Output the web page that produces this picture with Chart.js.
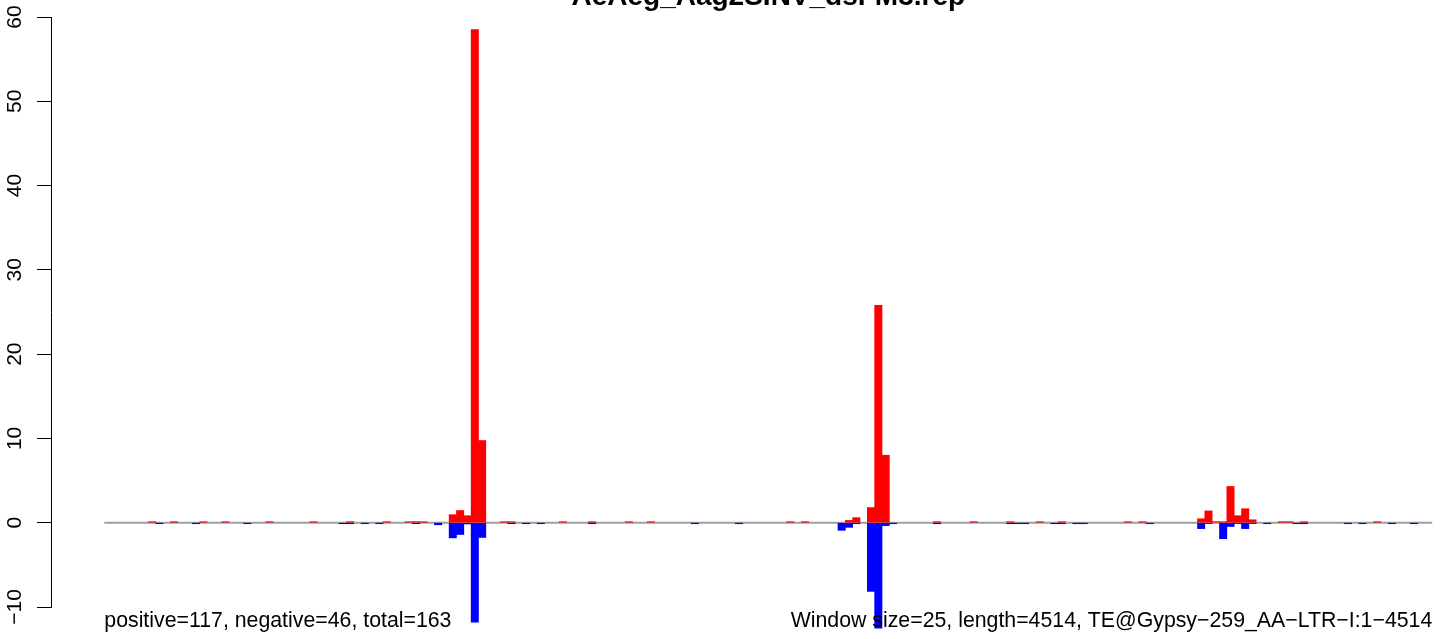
<!DOCTYPE html>
<html>
<head>
<meta charset="utf-8">
<script src="https://cdn.jsdelivr.net/npm/chart.js@4/dist/chart.umd.min.js"></script>
<style>
  body { margin: 0; background: #fff; }
  #wrap { width: 1444px; height: 639px; }
</style>
</head>
<body>
<div id="wrap"><canvas id="chart" width="1444" height="639"></canvas></div>
<script>
// window = 25 bp, length 4514 -> 181 bins
var binCount = 181;
var titleText = 'AeAeg_Aag2SINV_dsFM3.rep';
var leftNote = 'positive=117, negative=46, total=163';
var rightNote = 'Window size=25, length=4514, TE@Gypsy\u2212259_AA\u2212LTR\u2212I:1\u22124514';
var yTicks = [-10, 0, 10, 20, 30, 40, 50, 60];

// sense (red) bins and values
var posBins = [6, 9, 13, 16, 22, 28, 33, 38, 41, 42, 43, 47, 48, 49, 50, 51, 54, 55, 62, 66, 71, 74, 93, 95,
  101, 102, 104, 105, 106, 113, 118, 123, 127, 130, 139, 141, 149, 150, 151, 152, 153, 154, 155, 156,
  160, 161, 163, 173];
var posVals = [0.12, 0.12, 0.12, 0.12, 0.12, 0.12, 0.12, 0.12, 0.12, 0.12, 0.12, 0.95, 1.45, 0.83, 58.5, 9.75, 0.12, 0.12, 0.12, 0.12, 0.12, 0.12, 0.12, 0.12,
  0.27, 0.6, 1.8, 25.8, 8.0, 0.12, 0.12, 0.12, 0.12, 0.12, 0.12, 0.12, 0.47, 1.4, 0.12, 0.12, 4.3, 0.83, 1.66, 0.35,
  0.12, 0.12, 0.12, 0.12];

// antisense (blue) bins and values
var negBins = [7, 12, 19, 32, 33, 35, 37, 42, 45, 47, 48, 49, 50, 51, 55, 57, 59, 66, 80, 86,
  100, 101, 102, 104, 105, 106, 107, 113, 123, 124, 125, 129, 130, 132, 133, 142,
  149, 150, 152, 153, 154, 155, 156, 158, 162, 163, 169, 171, 175, 178];
var negVals = [-0.12, -0.12, -0.12, -0.12, -0.12, -0.12, -0.12, -0.12, -0.25, -1.8, -1.4, -0.15, -11.8, -1.75, -0.12, -0.12, -0.12, -0.12, -0.12, -0.12,
  -0.9, -0.55, -0.12, -8.15, -12.5, -0.35, -0.12, -0.12, -0.12, -0.12, -0.12, -0.12, -0.12, -0.12, -0.12, -0.12,
  -0.7, -0.1, -1.9, -0.45, -0.1, -0.7, -0.1, -0.12, -0.12, -0.12, -0.12, -0.12, -0.12, -0.12];

function toPoints(bins, vals) {
  return bins.map(function(b, i) { return { x: b + 0.5, y: vals[i] }; });
}

// R-like text: tick labels, title and the two notes under the plot
var rText = {
  id: 'rText',
  afterDraw: function(chart) {
    var ctx = chart.ctx;
    var xs = chart.scales.x;
    var ys = chart.scales.y;
    ctx.save();
    ctx.fillStyle = '#000';
    ctx.font = '21px "Liberation Sans", Arial, sans-serif';
    ctx.textAlign = 'center';
    ctx.textBaseline = 'alphabetic';
    yTicks.forEach(function(t) {
      ctx.save();
      ctx.translate(21, ys.getPixelForValue(t));
      ctx.rotate(-Math.PI / 2);
      ctx.fillText(String(t).replace('-', '\u2212'), 0, 0);
      ctx.restore();
    });
    ctx.font = '21.3px "Liberation Sans", Arial, sans-serif';
    ctx.textAlign = 'left';
    ctx.fillText(leftNote, xs.getPixelForValue(0), 627);
    ctx.textAlign = 'right';
    ctx.fillText(rightNote, xs.getPixelForValue(binCount), 627);
    ctx.font = 'bold 28px "Liberation Sans", Arial, sans-serif';
    ctx.textAlign = 'center';
    ctx.fillText(titleText, xs.getPixelForValue(binCount / 2), 5);
    ctx.restore();
  }
};

var ctx = document.getElementById('chart').getContext('2d');
var myChart = new Chart(ctx, {
  data: {
    datasets: [
      {
        type: 'line',
        data: [{ x: 0, y: 0 }, { x: binCount, y: 0 }],
        borderColor: '#9e9e9e',
        borderWidth: 2,
        pointRadius: 0,
        order: 5
      },
      {
        type: 'bar',
        data: toPoints(posBins, posVals),
        backgroundColor: '#ff0000',
        borderWidth: 0,
        grouped: false,
        barPercentage: 1,
        categoryPercentage: 1,
        clip: false,
        order: 1
      },
      {
        type: 'bar',
        data: toPoints(negBins, negVals),
        backgroundColor: '#0000ff',
        borderWidth: 0,
        grouped: false,
        barPercentage: 1,
        categoryPercentage: 1,
        clip: false,
        order: 2
      }
    ]
  },
  options: {
    responsive: false,
    animation: false,
    devicePixelRatio: 1,
    layout: { padding: { left: 0, right: 0, top: 17, bottom: 32 } },
    plugins: {
      legend: { display: false },
      tooltip: { enabled: false },
      title: { display: false }
    },
    scales: {
      x: {
        type: 'linear',
        display: false,
        offset: false,
        min: -7.265,
        max: 182.6
      },
      y: {
        type: 'linear',
        min: -10,
        max: 60,
        afterFit: function(s) { s.width = 51; },
        ticks: { display: false, stepSize: 10 },
        grid: {
          drawOnChartArea: false,
          drawTicks: true,
          tickLength: 14,
          color: '#000',
          lineWidth: 1
        },
        border: { display: true, color: '#000', width: 1 }
      }
    }
  },
  plugins: [rText]
});
</script>
</body>
</html>
